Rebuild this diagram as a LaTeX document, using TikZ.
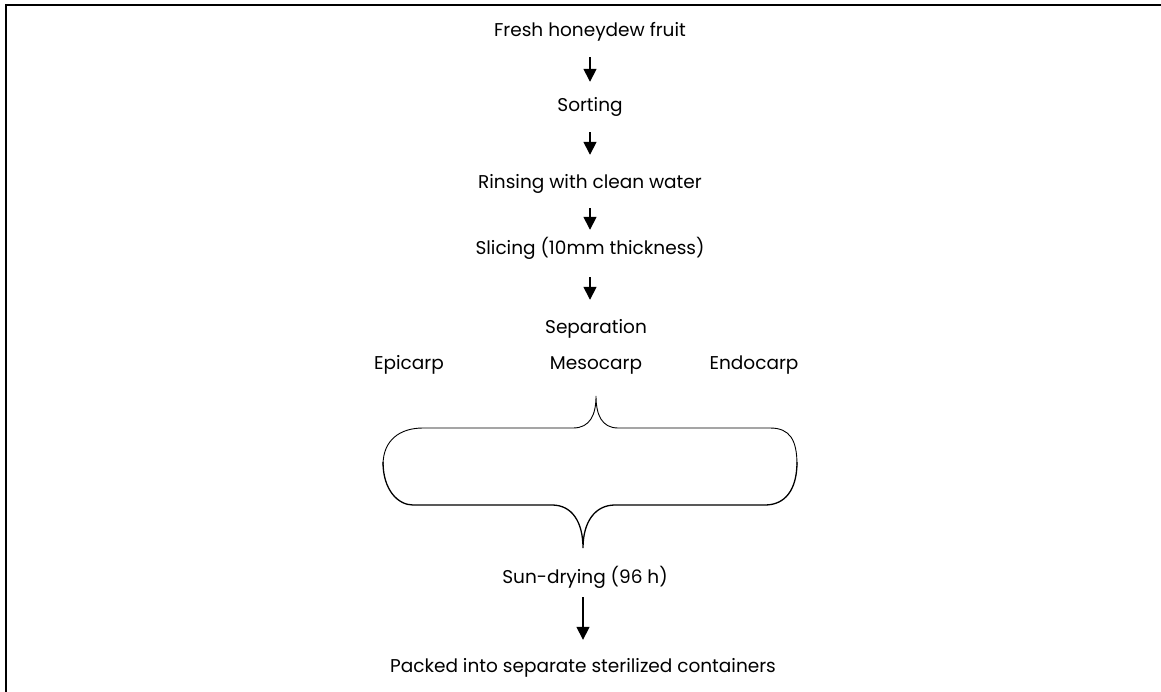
\documentclass[tikz,border=0pt]{standalone}
\usepackage{fontspec}
\setmainfont{Poppins}
\usetikzlibrary{arrows.meta}
\begin{document}
\begin{tikzpicture}[x=1pt,y=-1pt,
  lbl/.style={font=\fontsize{18.5}{22}\selectfont, inner sep=0pt, text height=13pt, text depth=4pt, anchor=base},
  arr/.style={line width=1.6pt, -{Triangle[width=13pt,length=13pt]}},
  brace/.style={line width=0.9pt}]
\useasboundingbox (0,0) rectangle (1161,692);
\draw[line width=2pt] (6,692) -- (6,5) -- (1161,5);
\node[lbl] (fresh) at (590,37) {Fresh honeydew fruit};
\node[lbl] (sort) at (590,112) {Sorting};
\node[lbl] (rinse) at (590,189) {Rinsing with clean water};
\node[lbl] (slice) at (590,255) {Slicing (10mm thickness)};
\node[lbl] (sep) at (596,334) {Separation};
\node[lbl] (epi) at (409,369) {Epicarp};
\node[lbl] (meso) at (596,369) {Mesocarp};
\node[lbl] (endo) at (754,369) {Endocarp};
\node[lbl] (sun) at (585,583) {Sun-drying (96 h)};
\node[lbl] (pack) at (583,672) {Packed into separate sterilized containers};
\draw[arr, shorten <=16pt, shorten >=17pt] (fresh.south) -- (sort.north);
\draw[arr, shorten <=16pt, shorten >=21pt] (sort.south) -- (rinse.north);
\draw[arr, shorten <=15pt, shorten >=12pt] (rinse.south) -- (slice.north);
\draw[arr, shorten <=18pt, shorten >=21pt] (slice.south) -- (slice.south |- sep.north);
\draw[arr, shorten <=10pt, shorten >=19pt] (sun.south -| pack.north) -- (pack.north);
% upper brace
\draw[brace] (383,465) .. controls (383,440) and (400,428) .. (423,428) -- (573,428)
  .. controls (590,428) and (596,415) .. (596,396)
  .. controls (596,415) and (602,428) .. (618,428) -- (770,428)
  .. controls (790,428) and (797,440) .. (797,465);
% lower brace
\draw[brace, line width=1.3pt] (383,462) .. controls (383,490) and (398,505) .. (413,505) -- (552,505)
  .. controls (572,505) and (583,522) .. (583,548)
  .. controls (583,522) and (595,505) .. (615,505) -- (765,505)
  .. controls (785,505) and (797,490) .. (797,462);
\end{tikzpicture}
\end{document}
